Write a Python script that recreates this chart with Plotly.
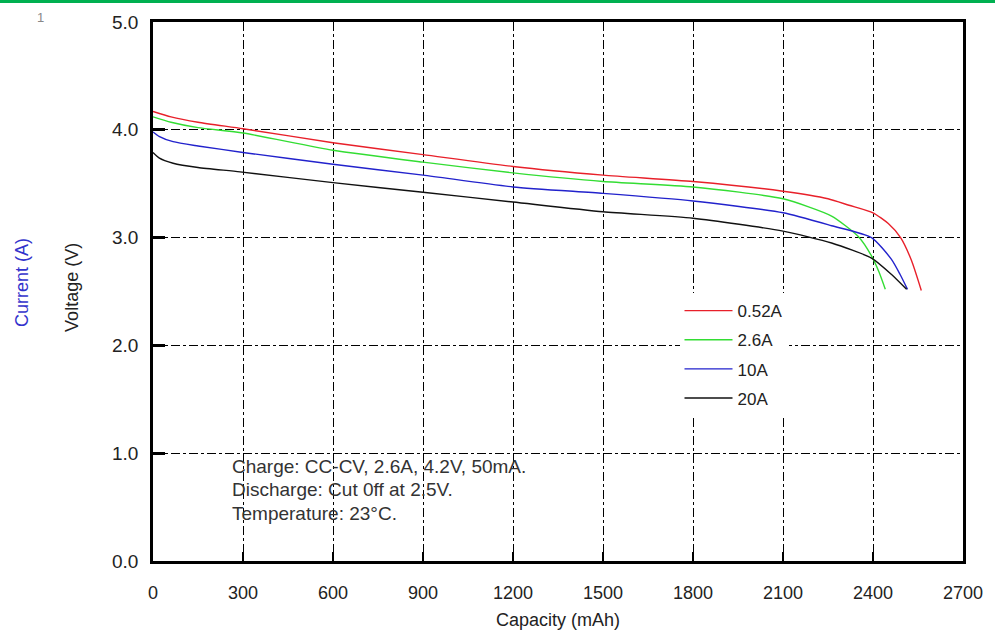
import plotly.graph_objects as go

# Data (capacity mAh, voltage V)
cap_052 = [0, 60, 150, 300, 600, 900, 1200, 1500, 1800, 2100, 2250, 2320, 2400, 2451, 2492, 2528, 2561]
v_052   = [4.17, 4.12, 4.07, 4.01, 3.88, 3.77, 3.66, 3.58, 3.52, 3.43, 3.36, 3.30, 3.23, 3.13, 3.00, 2.79, 2.51]

cap_26 = [0, 60, 150, 300, 600, 900, 1200, 1500, 1800, 2100, 2262, 2351, 2395, 2420, 2441]
v_26   = [4.12, 4.07, 4.02, 3.97, 3.81, 3.70, 3.60, 3.52, 3.47, 3.36, 3.20, 3.01, 2.83, 2.68, 2.52]

cap_10 = [0, 20, 67, 150, 300, 600, 900, 1200, 1500, 1800, 2100, 2262, 2395, 2461, 2490, 2515]
v_10   = [3.98, 3.94, 3.89, 3.85, 3.79, 3.68, 3.58, 3.47, 3.41, 3.34, 3.23, 3.11, 3.00, 2.80, 2.66, 2.52]

cap_20 = [0, 20, 67, 150, 290, 600, 900, 1200, 1500, 1800, 2100, 2262, 2395, 2461, 2512]
v_20   = [3.79, 3.74, 3.69, 3.65, 3.61, 3.51, 3.42, 3.33, 3.24, 3.18, 3.06, 2.95, 2.81, 2.66, 2.52]

series_names = ["0.52A", "2.6A", "10A", "20A"]
series_colors = ["#e8202a", "#33dd33", "#2222cc", "#111111"]
series_x = [cap_052, cap_26, cap_10, cap_20]
series_y = [v_052, v_26, v_10, v_20]

x_ticks = [0, 300, 600, 900, 1200, 1500, 1800, 2100, 2400, 2700]
y_ticks = [0.0, 1.0, 2.0, 3.0, 4.0, 5.0]

notes = ["Charge: CC-CV, 2.6A, 4.2V, 50mA.", "Discharge: Cut 0ff at 2.5V.", "Temperature: 23\u00b0C."]

FONT = "Liberation Sans, Arial, sans-serif"

fig = go.Figure()
for i, (n, c, xs, ys) in enumerate(zip(series_names, series_colors, series_x, series_y)):
    fig.add_trace(go.Scatter(x=xs, y=ys, mode="lines", name=n, legendgroup=n,
                             line=dict(color=c, width=1.4, shape="spline", smoothing=0.6)))

fig.update_layout(
    width=995, height=641,
    margin=dict(l=153, r=30, t=17, b=80),
    paper_bgcolor="white", plot_bgcolor="white",
    font=dict(family=FONT, size=16, color="#222"),
    showlegend=True,
    legend=dict(x=0.65, y=0.497, xanchor="left", yanchor="top",
                bgcolor="white", borderwidth=0, tracegroupgap=4,
                font=dict(size=17, color="#222"), itemwidth=48),
)
fig.update_xaxes(range=[0, 2700], tickvals=x_ticks, ticktext=[str(v) for v in x_ticks],
                 showline=True, mirror=True, linecolor="black", linewidth=2.5,
                 showgrid=True, gridcolor="black", gridwidth=1.3, griddash="dashdot",
                 ticks="inside", ticklen=9, tickwidth=2, tickcolor="black",
                 zeroline=False, tickfont=dict(size=18), ticklabelstandoff=14,
                 title=dict(text="Capacity (mAh)", font=dict(size=18), standoff=12))
fig.update_yaxes(range=[0, 5], tickvals=y_ticks, ticktext=["%.1f" % v for v in y_ticks],
                 showline=True, mirror=True, linecolor="black", linewidth=2.5,
                 showgrid=True, gridcolor="black", gridwidth=1.3, griddash="dashdot",
                 ticks="inside", ticklen=12, tickwidth=3, tickcolor="black",
                 zeroline=False, tickfont=dict(size=19), ticklabelstandoff=8)

for k, t in enumerate(notes):
    fig.add_annotation(x=255, y=0.88 - 0.22 * k, xref="x", yref="y", text=t,
                       showarrow=False, xanchor="left", yanchor="middle",
                       font=dict(size=19, color="#333"))

fig.add_annotation(x=-0.0998, y=0.507, xref="paper", yref="paper", text="Voltage (V)",
                   textangle=-90, showarrow=False, xanchor="center", yanchor="middle",
                   font=dict(size=18, color="#222"))
fig.add_annotation(x=-0.161, y=0.517, xref="paper", yref="paper", text="Current (A)",
                   textangle=-90, showarrow=False, xanchor="center", yanchor="middle",
                   font=dict(size=18, color="#3333cc"))
fig.add_annotation(x=-0.139, y=1.008, xref="paper", yref="paper", text="1",
                   showarrow=False, xanchor="center", yanchor="middle",
                   font=dict(size=13, color="#888"))

fig.add_shape(type="line", xref="paper", yref="paper", x0=-0.2, x1=1.05,
              y0=1.039, y1=1.039, line=dict(color="#00b050", width=4))

fig.write_html("out.html", config={"displayModeBar": False},
               post_script="document.body.style.margin='0';document.body.style.overflow='hidden';")
